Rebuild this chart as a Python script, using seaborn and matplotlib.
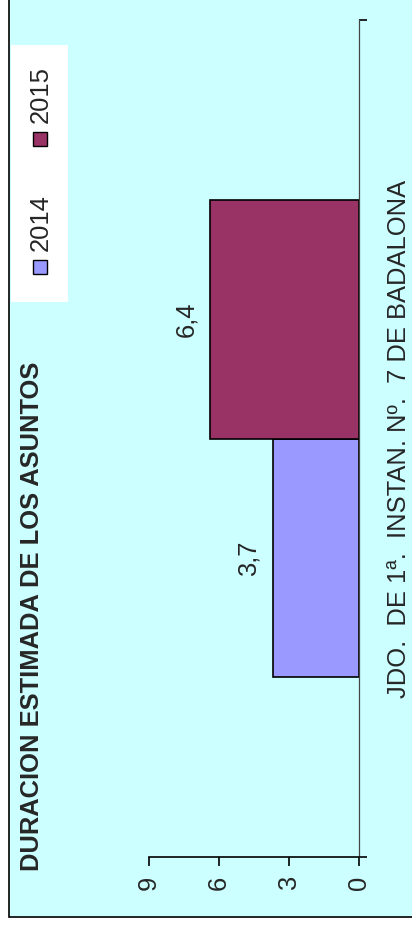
import matplotlib
matplotlib.use("Agg")
import matplotlib.pyplot as plt
import seaborn as sns
import pandas as pd
from matplotlib.patches import Rectangle

# datos del grafico
years = ["2014", "2015"]
duracion = [3.7, 6.4]
juzgado = "JDO.  DE 1ª.  INSTAN. Nº.  7 DE BADALONA"
titulo = "DURACION ESTIMADA DE LOS ASUNTOS"
value_ticks = [0, 3, 6, 9]
colores = {"2014": "#9999FF", "2015": "#993366"}

sns.set_theme(style="white")
plt.rcParams["font.family"] = ["Liberation Sans", "DejaVu Sans"]
FS = 18.4

df = pd.DataFrame({"juzgado": [juzgado] * len(years), "year": years, "duracion": duracion})

W, H = 412, 927
fig = plt.figure(figsize=(W / 100, H / 100), dpi=100, facecolor="white")


def fx(px):
    return px / W


def fy(py):
    return 1 - py / H


# fondo cian del grafico (recortado arriba y a la derecha)
fig.patches.append(Rectangle((fx(9), fy(917)), 1, 1, transform=fig.transFigure,
                             facecolor="#CCFFFF", edgecolor="black", linewidth=1.2, zorder=-5))

ax = fig.add_axes([fx(149), fy(857), fx(359) - fx(149), fy(20) - fy(857)])
ax.set_facecolor("none")
sns.barplot(data=df, x="duracion", y="juzgado", hue="year", hue_order=years,
            palette=colores, orient="h", width=0.571, saturation=1,
            edgecolor="black", linewidth=1.2, legend=False, ax=ax)

ax.set_xlim(9, 0)
ax.set_ylim(-0.5, 0.5)
ax.set_xlabel("")
ax.set_ylabel("")

for s in ["top", "left"]:
    ax.spines[s].set_visible(False)
ax.spines["bottom"].set_color("black")
ax.spines["bottom"].set_linewidth(1.2)
ax.spines["right"].set_color("#444444")
ax.spines["right"].set_linewidth(0.9)

ax.set_xticks(value_ticks)
ax.tick_params(axis="x", bottom=True, direction="out", length=6.5, width=1.2,
               color="black", labelsize=FS, labelrotation=90, pad=7)

ax.yaxis.tick_right()
ax.set_yticks([0], [juzgado])
ax.set_yticks([-0.5, 0.5], minor=True)
ax.tick_params(axis="y", which="major", left=False, right=False, length=0, pad=19.8, labelsize=FS)
ax.tick_params(axis="y", which="minor", left=False, right=True, direction="out",
               length=6, width=1.2, color="black")
for lab in ax.get_yticklabels():
    lab.set_rotation(90)
    lab.set_va("center")
    lab.set_ha("left")

for cont in ax.containers:
    ax.bar_label(cont, labels=[f"{d:.1f}".replace(".", ",") for d in cont.datavalues],
                 padding=8.4, rotation=90, fontsize=FS)

# titulo
fig.text(fx(32.5), fy(616.5), titulo, rotation=90, ha="center", va="center",
         fontsize=FS, fontweight="bold")

# leyenda
fig.patches.append(Rectangle((fx(11), fy(302)), fx(68) - fx(11), fy(45) - fy(302),
                             transform=fig.transFigure, facecolor="white", edgecolor="none", zorder=-4))
legend_pos = {"2014": (266.5, 222.5), "2015": (139, 95)}
for yr in years:
    sq_y, txt_y = legend_pos[yr]
    fig.patches.append(Rectangle((fx(33), fy(sq_y + 7)), fx(14), 14 / H,
                                 transform=fig.transFigure, facecolor=colores[yr],
                                 edgecolor="black", linewidth=1, zorder=2))
    fig.text(fx(40.4), fy(txt_y), yr, rotation=90, ha="center", va="center", fontsize=FS)

fig.savefig("out.png", dpi=100, facecolor=fig.get_facecolor())
